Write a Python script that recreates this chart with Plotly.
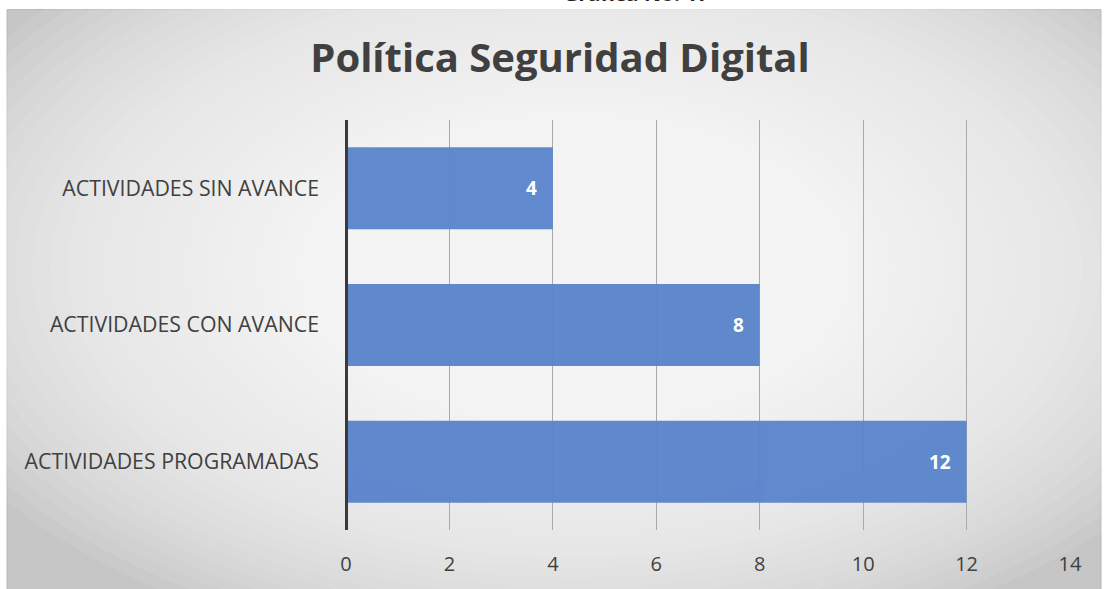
import plotly.graph_objects as go

categories = ["ACTIVIDADES PROGRAMADAS", "ACTIVIDADES CON AVANCE", "ACTIVIDADES SIN AVANCE"]
values = [12, 8, 4]
tick_vals = [0, 2, 4, 6, 8, 10, 12, 14]

W, H = 1107, 589
L, R, T, B = 346, 37, 120, 57
pw, ph = W - L - R, H - T - B


def px(x):
    return (x - L) / pw


def py(y):
    return (H - B - y) / ph


fig = go.Figure()
fig.add_trace(go.Bar(
    y=categories, x=values, orientation="h",
    marker=dict(color="#5B84CC", line=dict(width=0)),
    opacity=0.96,
    hoverinfo="x+y",
))

shapes = []
# frame background: grey edges fading to white in the middle
shapes.append(dict(type="rect", xref="paper", yref="paper", x0=px(7), x1=px(1101), y0=py(592), y1=py(9),
                   fillcolor="#c6c6c6", line=dict(color="#b8b8b8", width=1), layer="below"))
n = 40
for i in range(n):
    f = 1 - i / n
    rx, ry = 700 * f, 400 * f
    shapes.append(dict(type="circle", xref="paper", yref="paper",
                       x0=px(575 - rx), x1=px(575 + rx), y0=py(270 + ry), y1=py(270 - ry),
                       fillcolor="rgba(255,255,255,0.075)", line=dict(width=0), layer="below"))
# y axis line (paper ref so it is not clipped at the plot edge)
shapes.append(dict(type="line", xref="paper", yref="paper", x0=px(346.5), x1=px(346.5), y0=0, y1=1,
                   line=dict(color="#3a3a3a", width=3), layer="above"))

# caption above the frame, cut off at the top edge like in the source image
annotations = [dict(text="<b>Gráfica No. 17</b>", xref="paper", yref="paper", x=px(561), y=py(8),
                    yanchor="bottom", showarrow=False,
                    font=dict(size=21, color="#222222", family="Open Sans"))]
for cat, v in zip(categories, values):
    annotations.append(dict(x=v, y=cat, xref="x", yref="y", text=f"<b>{v}</b>", showarrow=False,
                            xanchor="right", xshift=-14,
                            font=dict(size=19, color="white", family="Open Sans")))

fig.update_layout(
    width=W, height=H,
    margin=dict(l=L, r=R, t=T, b=B),
    paper_bgcolor="white",
    plot_bgcolor="rgba(0,0,0,0)",
    bargap=0.4,
    showlegend=False,
    shapes=shapes,
    annotations=annotations,
    font=dict(family="Open Sans", color="#404040"),
    title=dict(text="<b>Política Seguridad Digital</b>", x=px(560), xref="paper", xanchor="center",
               y=1 - 58 / H, yref="container", yanchor="middle",
               font=dict(size=40, color="#404040", family="Open Sans")),
    xaxis=dict(range=[0, 14], tickvals=tick_vals, showgrid=True, gridcolor="#aaaaaa", gridwidth=1,
               zeroline=False, showline=False, ticks="", tickfont=dict(size=20, color="#404040"),
               ticklabelstandoff=20),
    yaxis=dict(showgrid=False, zeroline=False, showline=False, ticks="",
               tickfont=dict(size=21.3, color="#404040"), ticklabelstandoff=26),
)

fig.write_html("out.html", config={"displayModeBar": False},
               post_script="document.body.style.margin='0';")
